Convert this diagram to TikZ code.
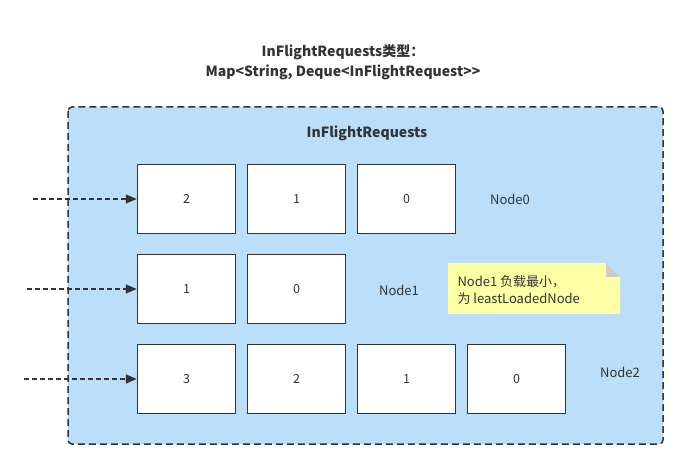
\documentclass[tikz,border=0pt]{standalone}
\usepackage{fontspec}
\setmainfont{Noto Sans CJK SC}
\usepackage{tikz}
\usetikzlibrary{positioning, arrows.meta}
\definecolor{poolblue}{RGB}{187,222,251}
\definecolor{inkgray}{RGB}{51,51,51}
\definecolor{noteyellow}{RGB}{255,255,166}
\definecolor{foldgray}{RGB}{204,204,204}

\begin{document}
\begin{tikzpicture}[x=1pt, y=-1pt, node distance=10.5pt,
    slot/.style={draw=inkgray, line width=1.5pt, fill=white, minimum width=98pt, minimum height=69pt, inner sep=0pt, font=\fontsize{12.5}{14}\selectfont, text=inkgray},
    tag/.style={font=\fontsize{13}{17}\selectfont, text=inkgray},
    feed/.style={draw=inkgray, line width=1.3pt, dash pattern=on 5pt off 3pt, -{Triangle[length=11pt, width=9pt]}}]
			\useasboundingbox (0,0) rectangle (688,470);
			% container
			\draw[draw=inkgray, line width=1.5pt, dash pattern=on 7pt off 4pt, fill=poolblue, rounded corners=4pt] (68,107) rectangle (663,444);
			\node[font=\bfseries\fontsize{14}{20}\selectfont, text=inkgray, align=center] (title) at (343,62) {InFlightRequests类型：\\Map<String, Deque<InFlightRequest>{}>};
			\node[font=\bfseries\fontsize{14}{16}\selectfont, text=inkgray] (pool) at (367,133) {InFlightRequests};

			% Node0
			\node[slot] (a2) at (186.5,199) {2};
			\node[slot, right=of a2] (a1) {1};
			\node[slot, right=of a1] (a0) {0};
			\node[tag] (n0) at (510,199) {Node0};

			% Node1
			\node[slot] (b1) at (186.5,289) {1};
			\node[slot, right=of b1] (b0) {0};
			\node[tag] (n1) at (399,290) {Node1};

			% Node2
			\node[slot] (c3) at (186.5,379) {3};
			\node[slot, right=of c3] (c2) {2};
			\node[slot, right=of c2] (c1) {1};
			\node[slot, right=of c1] (c0) {0};
			\node[tag] (n2) at (620,372) {Node2};

			\coordinate (in0) at (33,199);
			\coordinate (in1) at (27,289);
			\coordinate (in2) at (24,379);
			\draw[feed] (in0) -- (a2);
			\draw[feed] (in1) -- (b1);
			\draw[feed] (in2) -- (c3);

			% note
			\fill[noteyellow] (448,263) -- (606,263) -- (620,277) -- (620,314) -- (448,314) -- cycle;
			\fill[foldgray] (606,263) -- (620,277) -- (606,277) -- cycle;
			\node[tag, align=left, anchor=west] (memo) at (454,290) {Node1 负载最小，\\为 leastLoadedNode};
		\end{tikzpicture}
\end{document}
